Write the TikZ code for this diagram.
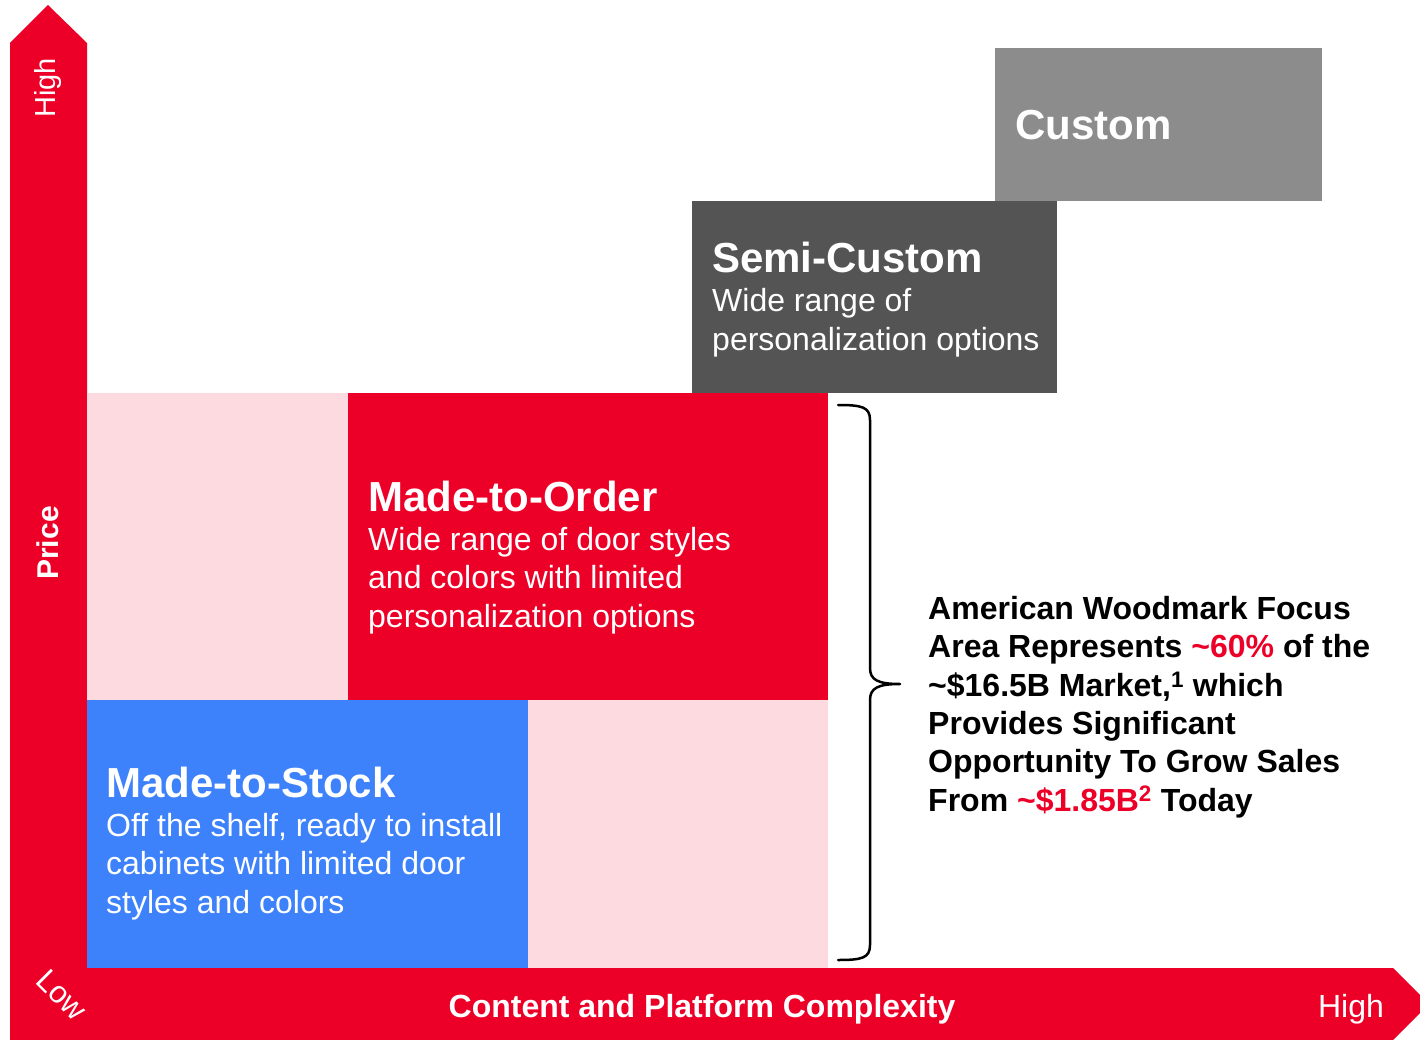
\documentclass[tikz,border=0pt]{standalone}
\usepackage{fontspec}
\setmainfont{Liberation Sans}
\definecolor{awred}{RGB}{237,0,40}
\definecolor{awpink}{RGB}{253,218,223}
\definecolor{awblue}{RGB}{61,130,251}
\definecolor{awdark}{RGB}{84,84,84}
\definecolor{awgray}{RGB}{140,140,140}
\tikzset{
  panel/.style={anchor=north west, inner sep=0pt, outer sep=0pt, draw=none},
  ttl/.style={anchor=base west, inner sep=0pt, text=white, font=\fontsize{42}{50}\selectfont\bfseries},
  % multi-line text: the base anchor sits on the baseline of the last line
  desc/.style={anchor=base west, inner sep=0pt, text=white, align=left, font=\fontsize{32}{38.4}\selectfont},
  axis/.style={inner sep=0pt, text=white},
}
\begin{document}
\begin{tikzpicture}[x=1pt,y=-1pt]
\useasboundingbox (0,0) rectangle (1420,1040);
\clip (0,0) rectangle (1420,1040);
\fill[white] (0,0) rectangle (1420,1040);

% axes: price arrow up, complexity arrow right
\fill[awred] (10,1040) -- (10,43) -- (48,5) -- (87,43) -- (87,968)
  -- (1393,968) -- (1429,1004) -- (1393,1040) -- cycle;

% market segments
\node[panel, fill=awpink, minimum width=741, minimum height=575] (bg) at (87,393) {};
\node[panel, fill=awgray, minimum width=327, minimum height=153] (custom) at (995,48) {};
\node[panel, fill=awdark, minimum width=365, minimum height=192] (semi) at (692,201) {};
\node[panel, fill=awred, minimum width=480, minimum height=307] (mto) at (348,393) {};
\node[panel, fill=awblue, minimum width=441, minimum height=268] (mts) at (87,700) {};

% segment labels
\node[ttl] (customT) at (1015,140) {Custom};
\node[ttl] (semiT) at (712,273) {Semi-Custom};
\node[desc] (semiD) at (712,350) {Wide range of\\personalization options};
\node[ttl] (mtoT) at (368,511) {Made-to-Order};
\node[desc] (mtoD) at (368,627) {Wide range of door styles\\and colors with limited\\personalization options};
\node[ttl] (mtsT) at (106,797) {Made-to-Stock};
\node[desc] (mtsD) at (106,913) {Off the shelf, ready to install\\cabinets with limited door\\styles and colors};

% axis labels
\node[axis, rotate=90, font=\fontsize{29}{34}\selectfont] (yhigh) at (48,88) {High};
\node[axis, rotate=90, font=\fontsize{30}{36}\selectfont\bfseries] (ylab) at (48,543) {Price};
\node[axis, rotate=-45, font=\fontsize{31}{36}\selectfont] (low) at (62,995) {Low};
\node[axis, anchor=base, font=\fontsize{32}{38}\selectfont\bfseries] (xlab) at (702,1017) {Content and Platform Complexity};
\node[axis, anchor=base, font=\fontsize{32}{38}\selectfont] (xhigh) at (1351,1017) {High};

% brace grouping the focus segments
\coordinate (bTop) at (838,405);
\coordinate (bMid) at (900,684);
\coordinate (bBot) at (838,960);
\draw[line width=2.5pt, line cap=round, line join=round]
  (bTop) .. controls (862,405) and (870,407) .. (870,420) -- (870,668)
  .. controls (870,680) and (878,684) .. (bMid)
  .. controls (878,684) and (870,688) .. (870,700) -- (870,945)
  .. controls (870,958) and (862,960) .. (bBot);

% focus area note
\node[anchor=base west, inner sep=0pt, align=left, font=\fontsize{32}{38.3}\selectfont\bfseries] (note) at (928,811)
  {American Woodmark Focus\\
   Area Represents \textcolor{awred}{\char`\~60\%} of the\\
   \char`\~\$16.5B Market,\textsuperscript{1} which\\
   Provides Significant\\
   Opportunity To Grow Sales\\
   From \textcolor{awred}{\char`\~\$1.85B\textsuperscript{2}} Today};
\end{tikzpicture}
\end{document}
